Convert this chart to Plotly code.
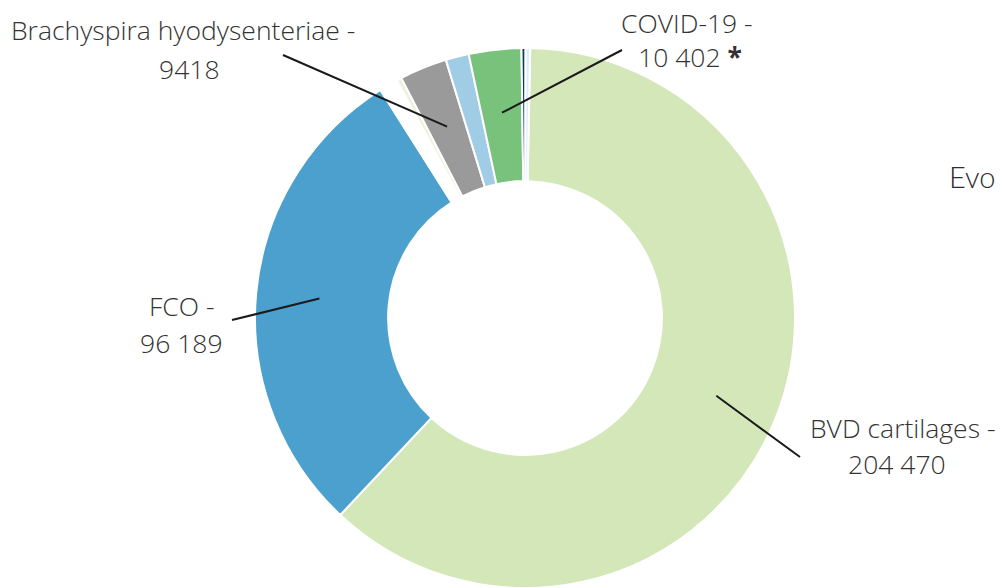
import math
import plotly.graph_objects as go

# ---- data (clockwise order starting at 12 o'clock) ----
labels = ["BVD cartilages", "FCO", "Autre A", "Autre B",
          "Brachyspira hyodysenteriae", "Autre C", "COVID-19", "Autre D", "Autre E"]
values = [204470, 96189, 3700, 1000, 9418, 4600, 10402, 800, 900]
colors = ["#d4e7b8", "#4ba0cd", "#ffffff", "#edf3da",
          "#9a9a9a", "#a0cce6", "#78c27b", "#0e3a5a", "#dceefa"]
label_suffix = {"COVID-19": " <b>*</b>"}
shown = ["BVD cartilages", "FCO", "Brachyspira hyodysenteriae", "COVID-19"]
side_title = "Evo"

# ---- layout constants ----
W, H = 1000, 588
R = 270
CX, CY = 525, H - R          # pixel centre (from top)
ROT = 1.1                   # start angle, degrees clockwise from top
FONT = "Open Sans"
TXT = "#333333"
FS = 26.5

# label placement (pixels): line1 centre, line2 centre, leader outer end
placement = {
    "Brachyspira hyodysenteriae": ((183, 30), (189, 69), (283, 55)),
    "COVID-19": ((687, 23), (690, 57), (622, 50)),
    "FCO": ((181, 306), (181, 343), (232, 320)),
    "BVD cartilages": ((902, 428), (897, 464), (800, 457)),
}


def fmt(v):
    if v >= 10000:
        return f"{v:,}".replace(",", " ")
    return str(v)


def px(x):
    return x / W


def py(y):
    return 1 - y / H


fig = go.Figure(go.Pie(
    labels=labels, values=values, sort=False, direction="clockwise",
    rotation=ROT, hole=0.507, textinfo="none",
    marker=dict(colors=colors, line=dict(color="white", width=2)),
    domain=dict(x=[(CX - R) / W, (CX + R) / W], y=[0, 2 * R / H]),
    showlegend=False,
))

total = sum(values)
cum = 0.0
mid = {}
for lab, v in zip(labels, values):
    a0 = ROT + cum / total * 360
    cum += v
    a1 = ROT + cum / total * 360
    mid[lab] = (a0 + a1) / 2

shapes = []
annotations = []
for lab in shown:
    v = values[labels.index(lab)]
    (l1x, l1y), (l2x, l2y), (ox, oy) = placement[lab]
    ang = math.radians(mid[lab])
    r_in = 0.765 * R
    ix = CX + r_in * math.sin(ang)
    iy = CY - r_in * math.cos(ang)
    shapes.append(dict(type="line", xref="paper", yref="paper",
                       x0=px(ix), y0=py(iy), x1=px(ox), y1=py(oy),
                       line=dict(color="#1a1a1a", width=2)))
    annotations.append(dict(x=px(l1x), y=py(l1y), xref="paper", yref="paper",
                            text=f"{lab} -", showarrow=False,
                            xanchor="center", yanchor="middle",
                            font=dict(family=FONT, size=FS, color=TXT, weight=300)))
    annotations.append(dict(x=px(l2x), y=py(l2y), xref="paper", yref="paper",
                            text=fmt(v) + label_suffix.get(lab, ""), showarrow=False,
                            xanchor="center", yanchor="middle",
                            font=dict(family=FONT, size=FS, color=TXT, weight=300)))

annotations.append(dict(x=px(947), y=py(176), xref="paper", yref="paper",
                        text=side_title, showarrow=False,
                        xanchor="left", yanchor="middle",
                        font=dict(family="Lato", size=29, color="#2e2e2e", weight=300)))

fig.update_layout(
    width=W, height=H,
    margin=dict(l=0, r=0, t=0, b=0),
    paper_bgcolor="white", plot_bgcolor="white",
    shapes=shapes, annotations=annotations,
)

fig.write_html(
    "out.html",
    config={"displayModeBar": False},
    post_script="document.body.style.margin='0';document.body.style.overflow='hidden';",
)
